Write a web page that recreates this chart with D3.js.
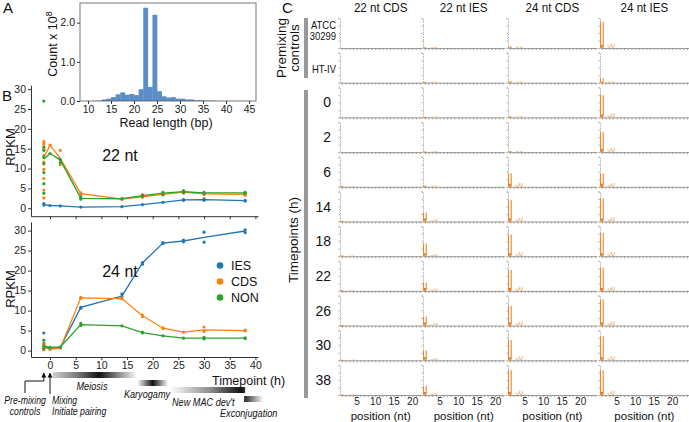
<!DOCTYPE html>
<html><head><meta charset="utf-8">
<script src="https://cdn.jsdelivr.net/npm/d3@7"></script>
<style>
body{margin:0;background:#fff}
svg{display:block}
</style></head><body>
<script>
// ===== Panel A: read length histogram =====
const readLengths = [11,12,13,14,15,16,17,18,19,20,21,22,23,24,25,26,27,28,29,30,31,32,33,34,35,36,37];
const readCounts  = [0.005,0.01,0.04,0.06,0.1,0.17,0.22,0.16,0.18,0.15,0.3,2.38,0.36,2.2,0.25,0.12,0.09,0.1,0.06,0.06,0.04,0.04,0.02,0.02,0.01,0.01,0.005];
const histXTicks = [10,15,20,25,30,35,40,45];
const histYTicks = [0,1,2];

// ===== Panel B: RPKM over time =====
const timepoints = [-1.2,0,2,6,14,18,22,26,30,38];
const ies22 = [0.9,0.7,0.6,0.3,0.4,0.9,1.5,2.1,2.2,1.9];
const cds22 = [12.8,15.9,12.6,3.7,2.3,2.9,3.5,4.1,3.6,3.5];
const non22 = [12.4,13.8,12.2,2.5,2.4,3.2,3.8,4.2,3.9,3.9];
const ies24 = [1.0,0.5,0.8,10.8,13.6,21.9,26.9,27.4,28.3,29.9];
const cds24 = [0.8,0.3,0.6,13.2,13.0,8.7,5.6,4.6,5.2,5.0];
const non24 = [1.2,0.8,0.9,6.5,6.2,4.5,3.7,3.1,3.1,3.1];
const ies22Reps = [[1.2,0.8],[0.7],[0.6],[0.3],[0.4],[0.9],[1.5],[2.2,2.0],[2.4,2.0],[2.0,1.8]];
const cds22Reps = [[16.8,16.2,15.0,13.3,11.6,9.8,7.5,4.6,2.6],[15.9],[14.6,11.0],[3.9,3.4],[2.2,2.5],[2.8,3.0],[3.4,3.6],[4.4,3.8],[3.8,3.4],[3.6,3.3]];
const non22Reps = [[27.0,15.5,14.6,12.8,11.2,9.0,6.2,3.8],[13.8],[12.3,11.5],[2.3,2.8],[2.4],[3.0,3.4],[3.4,4.0],[4.4,4.0],[3.8,4.0],[4.0,3.8]];
const ies24Reps = [[4.4,1.8,0.8],[0.5],[0.8],[10.8,10.6],[14.2,13.5],[22.0,21.6],[27.0,26.8],[27.6,27.2],[29.6,27.1],[30.2,29.5]];
const cds24Reps = [[1.6,0.6,0.2],[0.3],[0.6],[13.3,13.1],[13.2,12.9],[8.9,8.5],[5.7,5.5],[4.6],[5.9,4.8],[5.1,4.9]];
const non24Reps = [[2.6,1.2,0.4],[0.8],[0.9],[6.8,6.3],[6.2],[4.6,4.4],[3.7],[3.1],[3.3,2.9],[3.2,3.0]];
const seriesNames = ["IES","CDS","NON"];
const seriesColors = ["#1f77b4","#ff7f0e","#2ca02c"];
const rpkmTicks = [0,5,10,15,20,25,30];
const timeTicks = [0,5,10,15,20,25,30,35,40];
const stageNames = ["Meiosis","Karyogamy","New MAC dev't","Exconjugation"];
const stageStart = [0.5,17,23.4,37.8];
const stageEnd   = [17,23,38,41.5];

// ===== Panel C: sequence logos =====
const logoColumns = ["22 nt CDS","22 nt IES","24 nt CDS","24 nt IES"];
const logoLengths = [22,22,24,24];
const rowLabels = ["ATCC|30299","HT-IV","0","2","6","14","18","22","26","30","38"];
const uHeights = [
 [0,0.03,0.12,1.75],
 [0,0.03,0.12,0.3],
 [0,0.02,0.08,1.5],
 [0,0.02,0.08,1.35],
 [0.03,0.08,0.9,0.9],
 [0.04,0.6,1.45,1.55],
 [0.04,0.85,1.45,1.55],
 [0.03,0.55,1.4,1.55],
 [0.02,0.6,1.3,1.75],
 [0.02,0.65,1.35,1.6],
 [0.02,0.6,1.65,1.65]];
const minorHeights = [
 [0,0.05,0.1,0.3],
 [0,0.05,0.08,0.06],
 [0,0.03,0.06,0.28],
 [0,0.03,0.06,0.28],
 [0.02,0.06,0.25,0.25],
 [0.02,0.15,0.28,0.28],
 [0.02,0.15,0.28,0.28],
 [0.02,0.15,0.28,0.28],
 [0.02,0.15,0.28,0.28],
 [0.02,0.15,0.28,0.28],
 [0.02,0.15,0.28,0.28]];
const posTicks = [5,10,15,20];

// ================= drawing =================
const W=689,H=422;
const FONT="'Liberation Sans', Arial, sans-serif";
const svg=d3.select("body").append("svg").attr("width",W).attr("height",H).style("font-family",FONT);
const AX="#333";
function styleAxis(g,col,fs){
  g.selectAll("path,line").attr("stroke",col);
  g.selectAll("text").attr("fill","#222").style("font-size",fs+"px").style("font-family",FONT);
}
function label(x,y,t,fs,anchor,opts){
  const e=svg.append("text").attr("x",x).attr("y",y).attr("text-anchor",anchor||"start").style("font-size",fs+"px").attr("fill","#111").text(t);
  if(opts&&opts.italic) e.style("font-style","italic");
  if(opts&&opts.rot!==undefined) e.attr("x",null).attr("y",null).attr("transform",`translate(${x},${y}) rotate(${opts.rot})`);
  if(opts&&opts.narrow){
    const L=e.node().getComputedTextLength();
    e.attr("textLength",L*opts.narrow).attr("lengthAdjust","spacingAndGlyphs");
  }
  return e;
}

// ---- Panel A
label(3,13,"A",15);
const hx=d3.scaleLinear().domain([8.26,46.5]).range([80,256]);
const hy=d3.scaleLinear().domain([0,2.5]).range([101,3]);
svg.append("g").selectAll("rect").data(readLengths).join("rect")
  .attr("x",d=>hx(d)).attr("width",d=>hx(d+1)-hx(d)+0.3)
  .attr("y",(d,i)=>hy(readCounts[i])).attr("height",(d,i)=>hy(0)-hy(readCounts[i]))
  .attr("fill","#5b8ec8");
svg.append("rect").attr("x",80).attr("y",3).attr("width",176).attr("height",98)
  .attr("fill","none").attr("stroke","#555").attr("stroke-width",0.8);
const hxa=svg.append("g").attr("transform","translate(0,101)")
  .call(d3.axisBottom(hx).tickValues(histXTicks).tickSize(3).tickPadding(2).tickSizeOuter(0));
hxa.select(".domain").remove(); styleAxis(hxa,AX,10.5);
const hya=svg.append("g").attr("transform","translate(80,0)")
  .call(d3.axisLeft(hy).tickValues(histYTicks).tickFormat(d3.format(".1f")).tickSize(3).tickPadding(2));
hya.select(".domain").remove(); styleAxis(hya,AX,10.5);
const cl=svg.append("text").attr("transform","translate(57,44) rotate(-90)").attr("text-anchor","middle").style("font-size","12.5px").attr("fill","#111");
cl.append("tspan").text("Count x 10");
cl.append("tspan").attr("dy",-5).style("font-size","9px").text("8");
label(166,127,"Read length (bp)",12.5,"middle");

// ---- Panel B
label(2,101,"B",15);
const bx=d3.scaleLinear().domain([-3.7,40.5]).range([31,258]);
const byTop=d3.scaleLinear().domain([-2,31]).range([216.2,85.2]);
const byBot=d3.scaleLinear().domain([-1.6,32.2]).range([357,221.8]);
const panelsB=[
  {y:byTop, lines:[ies22,cds22,non22], reps:[ies22Reps,cds22Reps,non22Reps], bottom:216.2, labels:false, title:"22 nt", ty:161},
  {y:byBot, lines:[ies24,cds24,non24], reps:[ies24Reps,cds24Reps,non24Reps], bottom:357, labels:true, title:"24 nt", ty:277}
];
panelsB.forEach(p=>{
  const ya=svg.append("g").attr("transform","translate(31,0)")
    .call(d3.axisLeft(p.y).tickValues(rpkmTicks).tickSize(3).tickPadding(2).tickSizeOuter(0));
  styleAxis(ya,AX,10.5);
  const xa=svg.append("g").attr("transform",`translate(0,${p.bottom})`)
    .call(d3.axisBottom(bx).tickValues(timeTicks).tickSize(3).tickPadding(2).tickSizeOuter(0));
  styleAxis(xa,AX,10.5);
  if(!p.labels) xa.selectAll("text").remove();
  const line=d3.line().x((d,i)=>bx(timepoints[i])).y(d=>p.y(d));
  p.lines.forEach((vals,k)=>{
    svg.append("path").datum(vals).attr("d",line).attr("fill","none")
      .attr("stroke",seriesColors[k]).attr("stroke-width",1.3);
  });
  p.reps.forEach((reps,k)=>{
    const pts=[];
    reps.forEach((arr,i)=>arr.forEach(v=>pts.push([timepoints[i],v])));
    svg.append("g").selectAll("circle").data(pts).join("circle")
      .attr("cx",d=>bx(d[0])).attr("cy",d=>p.y(d[1])).attr("r",1.6).attr("fill",seriesColors[k]);
  });
  label(120,p.ty,p.title,16,"middle");
});
label(15,147,"RPKM",13,"middle",{rot:-90});
label(15,289,"RPKM",13,"middle",{rot:-90});
// legend
seriesNames.forEach((n,k)=>{
  const yy=265.5+k*16;
  svg.append("circle").attr("cx",220).attr("cy",yy).attr("r",3.3).attr("fill",seriesColors[k]);
  label(231,yy+4.5,n,12.5);
});
label(212,385,"Timepoint (h)",12.5);

// stage bars
const defs=svg.append("defs");
const gradStops=[
  [[0,"#d0d0d0"],[0.3,"#777"],[0.55,"#111"],[1,"#fff"]],
  [[0,"#fff"],[0.5,"#111"],[1,"#fff"]],
  [[0,"#fff"],[0.55,"#888"],[0.95,"#111"],[1,"#333"]],
  [[0,"#222"],[1,"#fff"]]
];
const stageY=[372,380,387,396];
stageNames.forEach((s,i)=>{
  const g=defs.append("linearGradient").attr("id","sg"+i);
  gradStops[i].forEach(st=>g.append("stop").attr("offset",st[0]).attr("stop-color",st[1]));
  svg.append("rect").attr("x",bx(stageStart[i])).attr("width",bx(stageEnd[i])-bx(stageStart[i]))
    .attr("y",stageY[i]).attr("height",6).attr("fill",`url(#sg${i})`);
});
const NR=0.83;
label(92,390,stageNames[0],11,"middle",{italic:true,narrow:NR});
label(147,398,stageNames[1],11,"middle",{italic:true,narrow:NR});
label(172,406,stageNames[2],11,"start",{italic:true,narrow:NR});
label(220,417,stageNames[3],11,"start",{italic:true,narrow:NR});
// arrows
defs.append("marker").attr("id","arr").attr("viewBox","0 0 10 10").attr("refX",9).attr("refY",5)
  .attr("markerWidth",5).attr("markerHeight",6).attr("orient","auto")
  .append("path").attr("d","M0,0L10,5L0,10Z").attr("fill","#111");
svg.append("path").attr("d",`M25,393V381H${bx(-1.2)}V373`).attr("fill","none").attr("stroke","#111").attr("stroke-width",1).attr("marker-end","url(#arr)");
svg.append("path").attr("d",`M${bx(0)},394V373`).attr("fill","none").attr("stroke","#111").attr("stroke-width",1).attr("marker-end","url(#arr)");
label(25,404,"Pre-mixing",10.5,"middle",{italic:true,narrow:NR});
label(25,415,"controls",10.5,"middle",{italic:true,narrow:NR});
label(52,404,"Mixing",10.5,"start",{italic:true,narrow:NR});
label(52,415,"Initiate pairing",10.5,"start",{italic:true,narrow:NR});

// ---- Panel C
label(282,13,"C",15);
const colLeft=[340,423,508,600], posW=3.7, cellH=30, firstBase=48, rowStep=34.7;
const ORANGE="#e8892b", LORANGE="#f0b070";
function uPath(x0,x1,yb,yt){
  const r=(x1-x0)/2;
  const yc=Math.max(yt,yb-r);
  const ry=Math.min(r,yb-yt);
  return `M${x0},${yt}V${yc}A${r},${ry} 0 0 0 ${x1},${yc}V${yt}`;
}
logoColumns.forEach((c,ci)=>{
  const n=logoLengths[ci];
  const xs=d3.scaleLinear().domain([0.5,n+0.5]).range([colLeft[ci],colLeft[ci]+n*posW]);
  label((xs.range()[0]+xs.range()[1])/2,12,c,13.5,"middle",{narrow:0.86});
  rowLabels.forEach((r,ri)=>{
    const base=firstBase+ri*rowStep;
    const ys=d3.scaleLinear().domain([0,2]).range([base,base-cellH]);
    const ya=svg.append("g").attr("transform",`translate(${colLeft[ci]},0)`)
      .call(d3.axisLeft(ys).ticks(4).tickSize(1.5).tickFormat(""));
    styleAxis(ya,"#b0b0b0",9);
    ya.select(".domain").attr("stroke-dasharray","1.5,1");
    const xa=svg.append("g").attr("transform",`translate(0,${base})`)
      .call(d3.axisBottom(xs).tickValues(d3.range(1,n+1)).tickSize(2).tickPadding(1).tickSizeOuter(0)
        .tickFormat(d=>(ri===rowLabels.length-1&&posTicks.includes(d))?d:""));
    styleAxis(xa,"#9a9a9a",10);
    xa.selectAll("text").attr("fill","#222");
    const h=uHeights[ri][ci];
    if(h>0){
      const x0=xs(1)-posW/2+0.5, x1=xs(1)+posW/2-0.5;
      svg.append("path").attr("d",uPath(x0,x1,ys(0),ys(h))).attr("fill","none")
        .attr("stroke",ORANGE).attr("stroke-width",1.1);
      if(h>0.5) svg.append("path").attr("d",`M${x0},${ys(0)-3}L${x1},${ys(0)-3}L${(x0+x1)/2},${ys(0)}Z`).attr("fill","#d9731a");
    }
    const m=minorHeights[ri][ci];
    if(m>0){
      [3,4].forEach((p,j)=>{
        const hh=j===0?m*0.6:m;
        const x0=xs(p)-posW/2+0.6, x1=xs(p)+posW/2-0.6;
        svg.append("path").attr("d",uPath(x0,x1,ys(0)-0.5,ys(hh))).attr("fill","none")
          .attr("stroke",LORANGE).attr("stroke-width",0.9);
      });
    }
  });
  label((xs.range()[0]+xs.range()[1])/2,420,"position (nt)",11.5,"middle");
});
rowLabels.forEach((r,ri)=>{
  const base=firstBase+ri*rowStep;
  if(r.includes("|")){
    const parts=r.split("|");
    label(336,base-19,parts[0],11.5,"end",{narrow:0.82});
    label(336,base-8,parts[1],11.5,"end",{narrow:0.82});
  } else if(ri<2){
    label(336,base-10,r,11.5,"end",{narrow:0.82});
  } else {
    label(331,base-10,r,14,"end");
  }
});
svg.append("rect").attr("x",304).attr("y",18).attr("width",4).attr("height",60).attr("fill","#999");
svg.append("rect").attr("x",304).attr("y",90).attr("width",4).attr("height",308).attr("fill","#999");
label(286,48,"Premixing",13.5,"middle",{rot:-90});
label(299,48,"controls",13.5,"middle",{rot:-90});
label(298,240,"Timepoints (h)",13.5,"middle",{rot:-90});
</script>
</body></html>
